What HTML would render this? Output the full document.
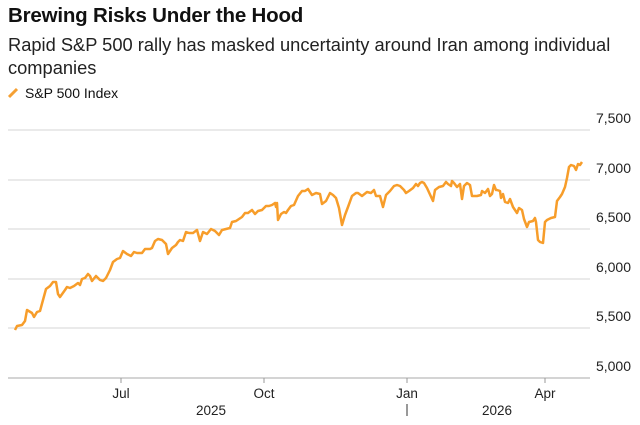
<!DOCTYPE html>
<html><head><meta charset="utf-8"><style>
body{margin:0;background:#fff;font-family:"Liberation Sans",sans-serif;}
.t{position:absolute;left:8px;top:4px;font-size:20.5px;font-weight:bold;color:#111;letter-spacing:-0.2px}
.s{position:absolute;left:8px;top:33px;font-size:18.3px;color:#222;line-height:23px;width:628px}
</style></head><body>
<div class="t">Brewing Risks Under the Hood</div>
<div class="s">Rapid S&amp;P 500 rally has masked uncertainty around Iran among individual companies</div>
<svg width="640" height="425" style="position:absolute;left:0;top:0" font-family="Liberation Sans, sans-serif">
<line x1="9" y1="97" x2="17" y2="89" stroke="#f5a033" stroke-width="3"/>
<text x="25" y="98" font-size="14" fill="#111">S&amp;P 500 Index</text>
<g stroke="#d4d4d4" stroke-width="1">
<line x1="8" y1="130" x2="590" y2="130"/><line x1="8" y1="180" x2="590" y2="180"/>
<line x1="8" y1="229" x2="590" y2="229"/><line x1="8" y1="279" x2="590" y2="279"/>
<line x1="8" y1="328" x2="590" y2="328"/></g>
<line x1="8" y1="378" x2="590" y2="378" stroke="#aaa"/>
<g stroke="#999"><line x1="121" y1="378" x2="121" y2="383"/><line x1="264" y1="378" x2="264" y2="383"/><line x1="407" y1="378" x2="407" y2="383"/><line x1="545" y1="378" x2="545" y2="383"/></g>
<g font-size="14" fill="#222" text-anchor="end">
<text x="631" y="123">7,500</text><text x="631" y="173">7,000</text><text x="631" y="222">6,500</text>
<text x="631" y="272">6,000</text><text x="631" y="321">5,500</text><text x="631" y="371">5,000</text></g>
<g font-size="13.5" fill="#222" text-anchor="middle">
<text x="121" y="398">Jul</text><text x="264" y="398">Oct</text><text x="407" y="398">Jan</text><text x="545" y="398">Apr</text>
<text x="211" y="415">2025</text><text x="497" y="415">2026</text></g>
<line x1="407" y1="404" x2="407" y2="416" stroke="#333"/>
<polyline fill="none" stroke="#f79d2a" stroke-width="2.5" stroke-linejoin="round" points="15,330 17,326 22,325 25,321 27,310 32,313 34,317 37,312 40,311 43,300 46,289 50,286 53,282 56,282 58,294 60,297 65,290 67,287 70,288 74,286 78,283 80,285 82,279 85,278 88,274 90,276 92,281 96,276 100,280 103,281 106,278 110,270 113,262 117,259 120,258 123,251 127,254 131,256 134,252 137,253 142,253 145,249 150,249 152,248 155,241 158,239 162,240 166,244 168,254 172,248 176,245 178,242 180,240 183,241 186,232 189,233 193,233 197,230 200,241 203,232 207,234 211,229 215,231 219,235 222,230 226,229 230,228 232,222 236,221 239,219 242,217 245,213 248,213 252,210 255,214 258,211 262,210 266,206 269,206 272,205 275,203 276,207 277,203 278,220 281,214 284,212 286,213 288,210 291,206 294,205 298,196 302,191 305,191 308,189 312,195 316,193 320,194 322,204 326,201 330,193 333,195 336,198 339,208 342,225 345,215 348,207 352,196 356,193 358,193 362,196 367,192 371,193 374,190 376,196 380,196 383,207 386,195 390,191 394,186 397,185 400,186 404,190 406,193 409,191 413,188 416,184 418,186 420,183 422,182 424,183 427,188 433,201 435,190 439,187 443,186 446,182 448,184 451,186 452,181 454,183 457,187 460,184 462,199 464,186 467,183 470,185 472,196 477,196 481,195 482,191 485,193 488,189 490,196 492,194 494,185 496,190 497,190 500,191 501,198 503,194 505,202 508,203 510,199 513,207 517,213 519,208 522,210 524,219 527,227 529,222 533,221 535,218 536,222 538,240 540,242 543,243 545,222 547,220 551,218 555,217 557,201 560,197 562,194 565,187 567,178 569,167 571,165 574,166 576,170 578,164 580,165 582,162"/>
</svg>
</body></html>
